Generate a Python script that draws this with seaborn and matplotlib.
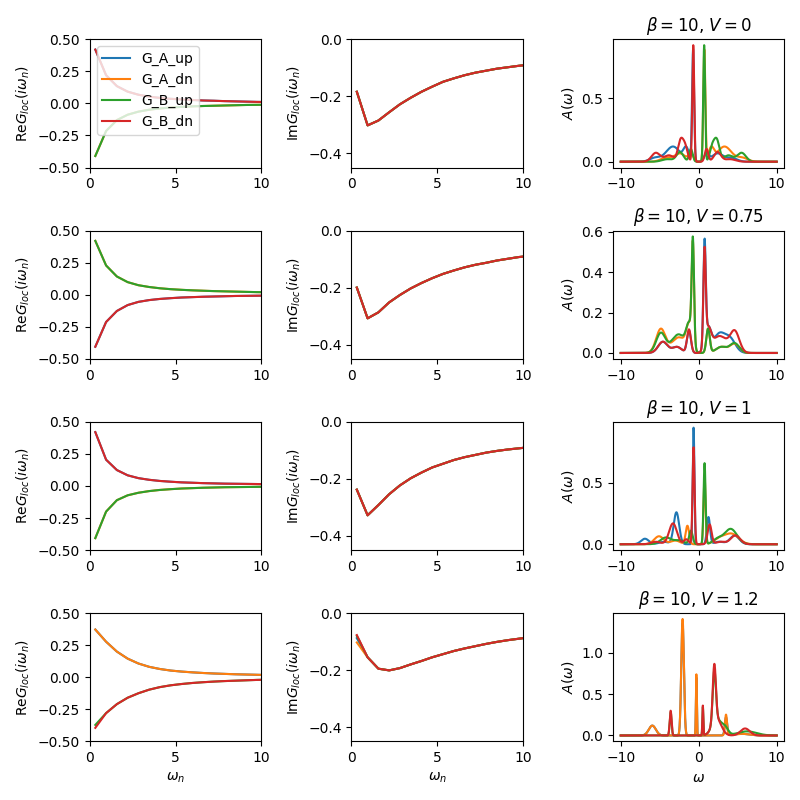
import numpy as np
import pandas as pd
import matplotlib
matplotlib.use("Agg")
import matplotlib.pyplot as plt
import seaborn as sns

# ---------------- data ----------------
series = ["G_A_up", "G_A_dn", "G_B_up", "G_B_dn"]
colors = ["#1f77b4", "#ff7f0e", "#2ca02c", "#d62728"]
titles = [r"$\beta=10$, $V=0$", r"$\beta=10$, $V=0.75$", r"$\beta=10$, $V=1$", r"$\beta=10$, $V=1.2$"]

wn = [0.314, 0.942, 1.571, 2.199, 2.827, 3.456, 4.084, 4.712, 5.341, 5.969,
      6.597, 7.226, 7.854, 8.482, 9.111, 9.739, 10.367]

re_r1_pos = [0.42, 0.22, 0.135, 0.092, 0.068, 0.053, 0.043, 0.036, 0.031, 0.027, 0.023, 0.021, 0.018, 0.016, 0.014, 0.012, 0.011]
re_r1_neg = [-0.41, -0.215, -0.13, -0.088, -0.064, -0.049, -0.039, -0.032, -0.027, -0.023, -0.020, -0.018, -0.016, -0.014, -0.012, -0.011, -0.010]
re_r2_pos = [0.42, 0.228, 0.142, 0.098, 0.074, 0.060, 0.050, 0.043, 0.038, 0.034, 0.031, 0.028, 0.026, 0.024, 0.022, 0.020, 0.019]
re_r2_neg = [-0.406, -0.213, -0.127, -0.081, -0.056, -0.042, -0.033, -0.027, -0.022, -0.019, -0.016, -0.014, -0.012, -0.010, -0.009, -0.008, -0.007]
re_r3_pos = [0.42, 0.205, 0.124, 0.083, 0.061, 0.048, 0.039, 0.033, 0.028, 0.025, 0.022, 0.020, 0.018, 0.017, 0.016, 0.015, 0.014]
re_r3_neg = [-0.407, -0.20, -0.111, -0.073, -0.053, -0.040, -0.031, -0.025, -0.020, -0.017, -0.014, -0.012, -0.010, -0.009, -0.008, -0.007, -0.006]
re_r4_pos = [0.372, 0.277, 0.20, 0.145, 0.107, 0.081, 0.064, 0.052, 0.044, 0.038, 0.033, 0.029, 0.026, 0.023, 0.021, 0.019, 0.017]
re_r4_neg_red = [-0.395, -0.28, -0.21, -0.16, -0.125, -0.097, -0.077, -0.063, -0.053, -0.045, -0.039, -0.034, -0.030, -0.027, -0.024, -0.021, -0.019]
re_r4_neg_green = [-0.372, -0.28, -0.21, -0.16, -0.125, -0.097, -0.077, -0.063, -0.053, -0.045, -0.039, -0.034, -0.030, -0.027, -0.024, -0.021, -0.019]

im_r1 = [-0.184, -0.302, -0.285, -0.256, -0.228, -0.205, -0.184, -0.166, -0.149, -0.137, -0.126, -0.117, -0.110, -0.103, -0.098, -0.093, -0.089]
im_r2 = [-0.200, -0.308, -0.287, -0.252, -0.226, -0.203, -0.184, -0.167, -0.152, -0.140, -0.129, -0.120, -0.113, -0.105, -0.099, -0.093, -0.089]
im_r3 = [-0.238, -0.328, -0.292, -0.254, -0.223, -0.198, -0.178, -0.160, -0.147, -0.134, -0.124, -0.116, -0.108, -0.102, -0.097, -0.093, -0.089]
im_r4_blue = [-0.088, -0.155, -0.195, -0.201, -0.193, -0.180, -0.168, -0.155, -0.144, -0.133, -0.124, -0.116, -0.108, -0.101, -0.095, -0.090, -0.085]
im_r4_orange = [-0.103, -0.155, -0.195, -0.201, -0.193, -0.180, -0.168, -0.155, -0.144, -0.133, -0.124, -0.116, -0.108, -0.101, -0.095, -0.090, -0.085]
im_r4_green = [-0.080, -0.155, -0.195, -0.201, -0.193, -0.180, -0.168, -0.155, -0.144, -0.133, -0.124, -0.116, -0.108, -0.101, -0.095, -0.090, -0.085]
im_r4_red = [-0.077, -0.155, -0.195, -0.201, -0.193, -0.180, -0.168, -0.155, -0.144, -0.133, -0.124, -0.116, -0.108, -0.101, -0.095, -0.090, -0.085]

re_rows = [
    [re_r1_pos, re_r1_neg, re_r1_neg, re_r1_pos],
    [re_r2_neg, re_r2_pos, re_r2_pos, re_r2_neg],
    [re_r3_pos, re_r3_neg, re_r3_neg, re_r3_pos],
    [re_r4_pos, re_r4_pos, re_r4_neg_green, re_r4_neg_red],
]
im_rows = [
    [im_r1, im_r1, im_r1, im_r1],
    [im_r2, im_r2, im_r2, im_r2],
    [im_r3, im_r3, im_r3, im_r3],
    [im_r4_blue, im_r4_orange, im_r4_green, im_r4_red],
]

# spectral peaks: (centre, height, width)
peaks_r1_A_up = [(-0.72, 0.88, 0.13), (-1.6, 0.10, 0.35), (-3.3, 0.12, 0.9), (-5.6, 0.03, 0.7), (1.0, 0.06, 0.3), (2.4, 0.065, 0.7), (4.2, 0.03, 0.7)]
peaks_r1_A_dn = [(0.72, 0.88, 0.13), (1.6, 0.10, 0.35), (3.3, 0.12, 0.9), (5.6, 0.03, 0.7), (-1.0, 0.06, 0.3), (-2.4, 0.065, 0.7), (-4.2, 0.03, 0.7)]
peaks_r1_B_up = [(0.7, 0.92, 0.12), (1.7, 0.10, 0.3), (2.3, 0.17, 0.35), (3.8, 0.05, 0.6), (5.5, 0.07, 0.55), (-1.0, 0.10, 0.22), (-2.4, 0.075, 0.45), (-4.0, 0.02, 0.7)]
peaks_r1_B_dn = [(-0.7, 0.92, 0.12), (-1.7, 0.10, 0.3), (-2.3, 0.17, 0.35), (-3.8, 0.05, 0.6), (-5.5, 0.07, 0.55), (1.0, 0.10, 0.22), (2.4, 0.075, 0.45), (4.0, 0.02, 0.7)]

peaks_r2_A_up = [(0.75, 0.50, 0.15), (1.2, 0.12, 0.4), (2.6, 0.09, 0.7), (4.0, 0.07, 0.7), (-1.25, 0.11, 0.25), (-2.8, 0.03, 0.6), (-4.6, 0.055, 0.6)]
peaks_r2_A_dn = [(-0.75, 0.48, 0.15), (-1.2, 0.14, 0.4), (-2.3, 0.06, 0.6), (-3.2, 0.04, 0.6), (-4.85, 0.12, 0.6), (1.2, 0.12, 0.22), (2.9, 0.03, 0.7), (4.6, 0.045, 0.6)]
peaks_r2_B_up = [(-0.75, 0.50, 0.15), (-1.2, 0.14, 0.4), (-2.3, 0.07, 0.6), (-3.2, 0.05, 0.6), (-4.85, 0.10, 0.6), (1.2, 0.12, 0.22), (2.9, 0.03, 0.7), (4.6, 0.048, 0.6)]
peaks_r2_B_dn = [(0.75, 0.46, 0.15), (1.2, 0.12, 0.4), (2.3, 0.06, 0.6), (3.2, 0.05, 0.6), (4.6, 0.11, 0.6), (-1.25, 0.116, 0.25), (-2.8, 0.03, 0.6), (-4.6, 0.056, 0.6)]

peaks_r3_A_up = [(-0.66, 0.95, 0.11), (-2.86, 0.26, 0.35), (-4.5, 0.02, 0.6), (-6.9, 0.045, 0.5), (1.25, 0.22, 0.2), (2.6, 0.02, 0.6), (4.6, 0.07, 0.6)]
peaks_r3_A_dn = [(0.75, 0.55, 0.13), (-1.45, 0.15, 0.22), (-3.0, 0.03, 0.6), (-5.1, 0.065, 0.6), (2.6, 0.04, 0.7), (4.2, 0.085, 0.9)]
peaks_r3_B_up = [(0.75, 0.66, 0.13), (-1.0, 0.11, 0.22), (-2.5, 0.03, 0.6), (-4.2, 0.055, 0.7), (2.4, 0.04, 0.6), (4.1, 0.125, 0.8)]
peaks_r3_B_dn = [(-0.66, 0.79, 0.13), (-1.6, 0.04, 0.3), (-3.3, 0.17, 0.5), (-5.5, 0.02, 0.6), (1.4, 0.16, 0.25), (2.8, 0.02, 0.6), (4.7, 0.072, 0.6)]

peaks_r4_A_up = [(-5.95, 0.12, 0.45), (-2.07, 1.36, 0.17), (-0.3, 0.70, 0.06), (3.5, 0.22, 0.15), (5.5, 0.02, 1.0)]
peaks_r4_A_dn = [(-5.95, 0.12, 0.45), (-2.07, 1.41, 0.17), (-0.3, 0.74, 0.06), (3.5, 0.25, 0.13), (5.5, 0.02, 1.0)]
peaks_r4_B_up = [(-3.6, 0.28, 0.12), (0.53, 0.34, 0.06), (2.0, 0.62, 0.2), (2.3, 0.2, 0.6), (3.4, 0.08, 0.4), (6.2, 0.05, 1.2)]
peaks_r4_B_dn = [(-3.6, 0.30, 0.12), (0.53, 0.36, 0.06), (2.0, 0.69, 0.2), (2.3, 0.2, 0.6), (5.95, 0.085, 0.6)]

peak_rows = [
    [peaks_r1_A_up, peaks_r1_A_dn, peaks_r1_B_up, peaks_r1_B_dn],
    [peaks_r2_A_up, peaks_r2_A_dn, peaks_r2_B_up, peaks_r2_B_dn],
    [peaks_r3_A_up, peaks_r3_A_dn, peaks_r3_B_up, peaks_r3_B_dn],
    [peaks_r4_A_up, peaks_r4_A_dn, peaks_r4_B_up, peaks_r4_B_dn],
]

omega = np.linspace(-10, 10, 2001)


def spectrum(peaks):
    a = np.zeros_like(omega)
    for c, h, w in peaks:
        a += h * np.exp(-0.5 * ((omega - c) / w) ** 2)
    return a


# ---------------- plot ----------------
fig, axes = plt.subplots(4, 3, figsize=(8, 8), dpi=100)

for r in range(4):
    ax_re, ax_im, ax_a = axes[r]
    for k, name in enumerate(series):
        sns.lineplot(x=wn, y=re_rows[r][k], ax=ax_re, color=colors[k], label=name, linewidth=1.5)
        sns.lineplot(x=wn, y=im_rows[r][k], ax=ax_im, color=colors[k], linewidth=1.5)
        sns.lineplot(x=omega, y=spectrum(peak_rows[r][k]), ax=ax_a, color=colors[k], linewidth=1.5)
    ax_re.set_xlim(0, 10)
    ax_re.set_ylim(-0.5, 0.5)
    ax_re.set_xticks([0, 5, 10])
    ax_re.set_ylabel(r"Re$G_{loc}(i\omega_n)$")
    ax_im.set_xlim(0, 10)
    ax_im.set_ylim(-0.45, 0.0)
    ax_im.set_xticks([0, 5, 10])
    ax_im.set_ylabel(r"Im$G_{loc}(i\omega_n)$")
    ax_a.set_ylabel(r"$A(\omega)$")
    ax_a.set_title(titles[r])
    ax_a.set_xticks([-10, 0, 10])
    for ax in (ax_re, ax_im, ax_a):
        if ax.get_legend() is not None:
            ax.get_legend().remove()
    if r == 3:
        ax_re.set_xlabel(r"$\omega_n$")
        ax_im.set_xlabel(r"$\omega_n$")
        ax_a.set_xlabel(r"$\omega$")

axes[0, 0].legend(loc="upper left")
fig.tight_layout()
fig.savefig("out.png", dpi=100)
